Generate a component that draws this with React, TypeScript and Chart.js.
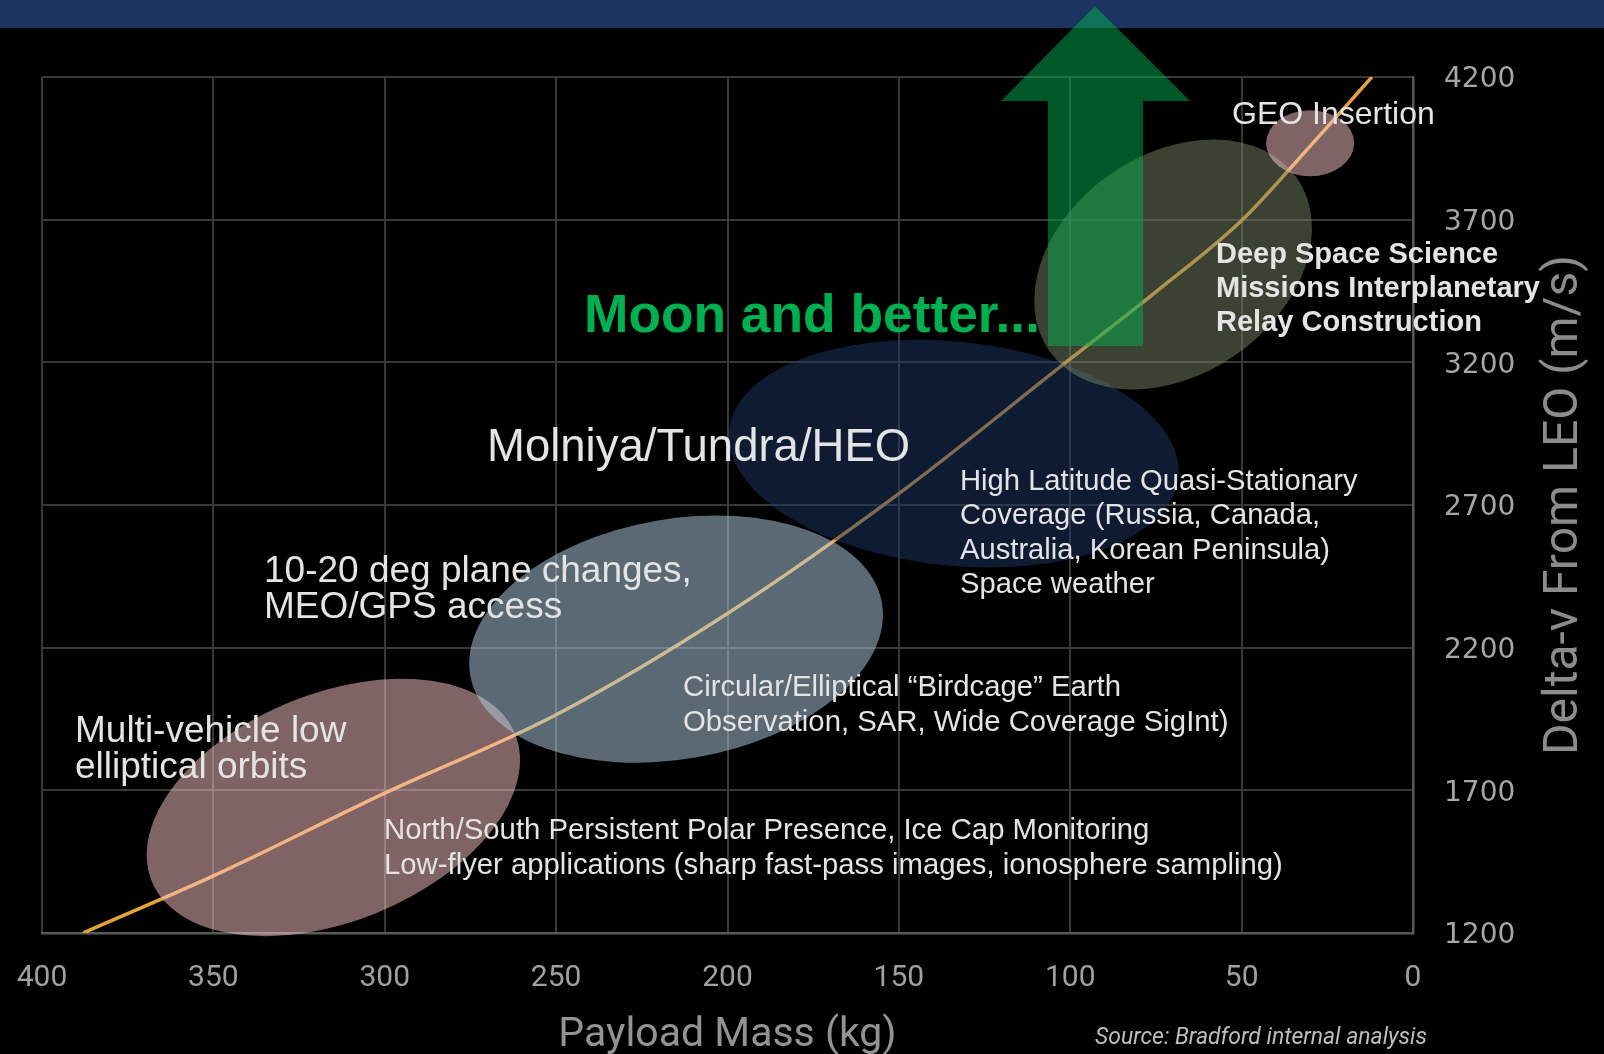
import React, { useEffect, useRef } from 'react';
import { Chart, registerables } from 'chart.js';

Chart.register(...registerables);

// ---- data ----
const payloadMassKg = [388, 350, 300, 250, 200, 150, 100, 75, 50, 30, 12];
const deltaVFromLeo = [1200, 1400, 1690, 1965, 2320, 2740, 3212, 3447, 3697, 3958, 4200];
const xTickValues = [400, 350, 300, 250, 200, 150, 100, 50, 0];
const yTickValues = [1200, 1700, 2200, 2700, 3200, 3700, 4200];

// mission regions (centres in data units)
const regionNames = ['Multi-vehicle LEO', 'MEO/GPS', 'Molniya/Tundra/HEO', 'Deep Space', 'GEO'];
const regionMassKg = [315, 215, 134, 70, 30];
const regionDeltaV = [1640, 2230, 2880, 3543, 3968];

const xTitle = 'Payload Mass (kg)';
const yTitle = 'Delta-v From LEO (m/s)';
const sourceNote = 'Source: Bradford internal analysis';

const labelGeo = ['GEO Insertion'];
const labelDeep = ['Deep Space Science', 'Missions Interplanetary', 'Relay Construction'];
const labelMoon = ['Moon and better...'];
const labelMolniya = ['Molniya/Tundra/HEO'];
const labelHighLat = ['High Latitude Quasi-Stationary', 'Coverage (Russia, Canada,', 'Australia, Korean Peninsula)', 'Space weather'];
const labelMeo = ['10-20 deg plane changes,', 'MEO/GPS access'];
const labelBirdcage = ['Circular/Elliptical \u201CBirdcage\u201D Earth', 'Observation, SAR, Wide Coverage SigInt)'];
const labelMulti = ['Multi-vehicle low', 'elliptical orbits'];
const labelPolar = ['North/South Persistent Polar Presence, Ice Cap Monitoring', 'Low-flyer applications (sharp fast-pass images, ionosphere sampling)'];

// ---- styles ----
const NAVY = 'rgb(28,52,98)';
const TEXT = '#e4e4e4';
const SANS = '"Liberation Sans", Arial, sans-serif';
const GRID = '#393939';
const BORDER = '#5a5a5a';

const regionStyles = [
  { a: 196, b: 114, rot: 22, fill: 'rgba(254,198,202,0.5)' },
  { a: 209, b: 120, rot: 10, fill: 'rgba(180,210,232,0.5)' },
  { a: 226, b: 112, rot: -6, fill: 'rgba(28,54,100,0.5)' },
  { a: 151, b: 110, rot: 35, fill: 'rgba(120,132,102,0.5)' },
  { a: 44, b: 33, rot: 0, fill: 'rgba(254,198,202,0.5)' },
];

const textBlocks = [
  { lines: labelGeo, x: 1232, y: 124, gap: 0, font: `32px ${SANS}`, color: TEXT },
  { lines: labelDeep, x: 1216, y: 262.5, gap: 34.3, font: `bold 29px ${SANS}`, color: TEXT },
  { lines: labelMoon, x: 584, y: 332, gap: 0, font: `bold 53.3px ${SANS}`, color: '#00b050' },
  { lines: labelMolniya, x: 487, y: 461, gap: 0, font: `45.5px ${SANS}`, color: TEXT },
  { lines: labelHighLat, x: 960, y: 490, gap: 34.3, font: `29.2px ${SANS}`, color: TEXT },
  { lines: labelMeo, x: 264, y: 582, gap: 36, font: `37px ${SANS}`, color: TEXT },
  { lines: labelBirdcage, x: 683, y: 696, gap: 35, font: `29.3px ${SANS}`, color: TEXT },
  { lines: labelMulti, x: 75, y: 742, gap: 36, font: `37px ${SANS}`, color: TEXT },
  { lines: labelPolar, x: 384, y: 838.5, gap: 35.5, font: `29.3px ${SANS}`, color: TEXT },
];

const decorPlugin = {
  id: 'decor',
  beforeDraw(chart: any) {
    const { ctx, width, height } = chart;
    ctx.save();
    ctx.fillStyle = '#000';
    ctx.fillRect(0, 0, width, height);
    ctx.fillStyle = NAVY;
    ctx.fillRect(0, 0, width, 28);
    ctx.restore();
  },
  afterDatasetsDraw(chart: any) {
    const { ctx } = chart;
    const xs = chart.scales.x;
    const ys = chart.scales.y;
    ctx.save();
    // region ellipses
    regionNames.forEach((_, i) => {
      const s = regionStyles[i];
      const cx = xs.getPixelForValue(regionMassKg[i]);
      const cy = ys.getPixelForValue(regionDeltaV[i]);
      ctx.beginPath();
      ctx.ellipse(cx, cy, s.a, s.b, (-s.rot * Math.PI) / 180, 0, Math.PI * 2);
      ctx.fillStyle = s.fill;
      ctx.fill();
    });
    // green arrow
    ctx.beginPath();
    ctx.moveTo(1095, 6);
    ctx.lineTo(1190, 101);
    ctx.lineTo(1143, 101);
    ctx.lineTo(1143, 346);
    ctx.lineTo(1048, 346);
    ctx.lineTo(1048, 101);
    ctx.lineTo(1001, 101);
    ctx.closePath();
    ctx.fillStyle = 'rgba(0,176,80,0.5)';
    ctx.fill();
    // text labels
    ctx.textBaseline = 'alphabetic';
    ctx.textAlign = 'left';
    for (const t of textBlocks) {
      ctx.font = t.font;
      ctx.fillStyle = t.color;
      t.lines.forEach((line, k) => ctx.fillText(line, t.x, t.y + k * t.gap));
    }
    // y axis title (reads bottom to top)
    ctx.save();
    ctx.translate(1577, 505);
    ctx.rotate(-Math.PI / 2);
    ctx.font = '48px Roboto, sans-serif';
    ctx.fillStyle = '#8c8c8c';
    ctx.textAlign = 'center';
    ctx.fillText(yTitle, 0, 0);
    ctx.restore();
    // source note
    ctx.save();
    ctx.translate(1095, 1044);
    ctx.scale(0.955, 1);
    ctx.font = 'italic 24px Roboto, sans-serif';
    ctx.fillStyle = '#bdbdbd';
    ctx.textAlign = 'left';
    ctx.fillText(sourceNote, 0, 0);
    ctx.restore();
    ctx.restore();
  },
};

export default function App() {
  const ref = useRef<HTMLCanvasElement>(null);
  useEffect(() => {
    document.body.style.margin = '0';
    document.body.style.background = '#000';
    const chart = new Chart(ref.current as HTMLCanvasElement, {
      type: 'line',
      data: {
        datasets: [
          {
            label: 'Delta-v',
            data: payloadMassKg.map((m, i) => ({ x: m, y: deltaVFromLeo[i] })),
            borderColor: '#e4a23c',
            borderWidth: 3.5,
            pointRadius: 0,
            cubicInterpolationMode: 'monotone',
            fill: false,
          },
        ],
      },
      options: {
        animation: false,
        responsive: false,
        devicePixelRatio: 1,
        events: [],
        layout: { padding: { left: 42, top: 77, right: 0, bottom: 0 } },
        plugins: { legend: { display: false }, tooltip: { enabled: false } },
        scales: {
          x: {
            type: 'linear',
            reverse: true,
            min: 0,
            max: 400,
            afterBuildTicks: (s: any) => {
              s.ticks = xTickValues.map((v) => ({ value: v }));
            },
            afterFit: (s: any) => {
              s.height = 121;
              s.paddingLeft = 0;
              s.paddingRight = 0;
            },
            ticks: {
              color: '#a0a0a0',
              font: { family: 'Roboto', size: 30 },
              padding: 27,
              maxRotation: 0,
              autoSkip: false,
              callback: (v: any) => String(v),
            },
            grid: { color: GRID, lineWidth: 2, drawTicks: false },
            border: { color: BORDER, width: 2.5 },
            title: {
              display: true,
              text: xTitle,
              color: '#939393',
              font: { family: 'Roboto', size: 41, lineHeight: 1 },
              padding: { top: 0, bottom: -2 },
            },
          },
          y: {
            type: 'linear',
            position: 'right',
            min: 1200,
            max: 4200,
            afterBuildTicks: (s: any) => {
              s.ticks = yTickValues.map((v) => ({ value: v }));
            },
            afterFit: (s: any) => {
              s.width = 191;
              s.paddingTop = 0;
              s.paddingBottom = 0;
            },
            ticks: {
              color: '#a6a6a6',
              font: { family: 'DejaVu Sans', size: 28 },
              padding: 31,
              labelOffset: 3,
              autoSkip: false,
              callback: (v: any) => String(v),
            },
            grid: { color: GRID, lineWidth: 2, drawTicks: false },
            border: { color: BORDER, width: 2.5 },
          },
        },
      },
      plugins: [decorPlugin],
    } as any);
    return () => chart.destroy();
  }, []);
  return (
    <canvas
      ref={ref}
      width={1604}
      height={1054}
      style={{ display: 'block', width: 1604, height: 1054 }}
    />
  );
}
